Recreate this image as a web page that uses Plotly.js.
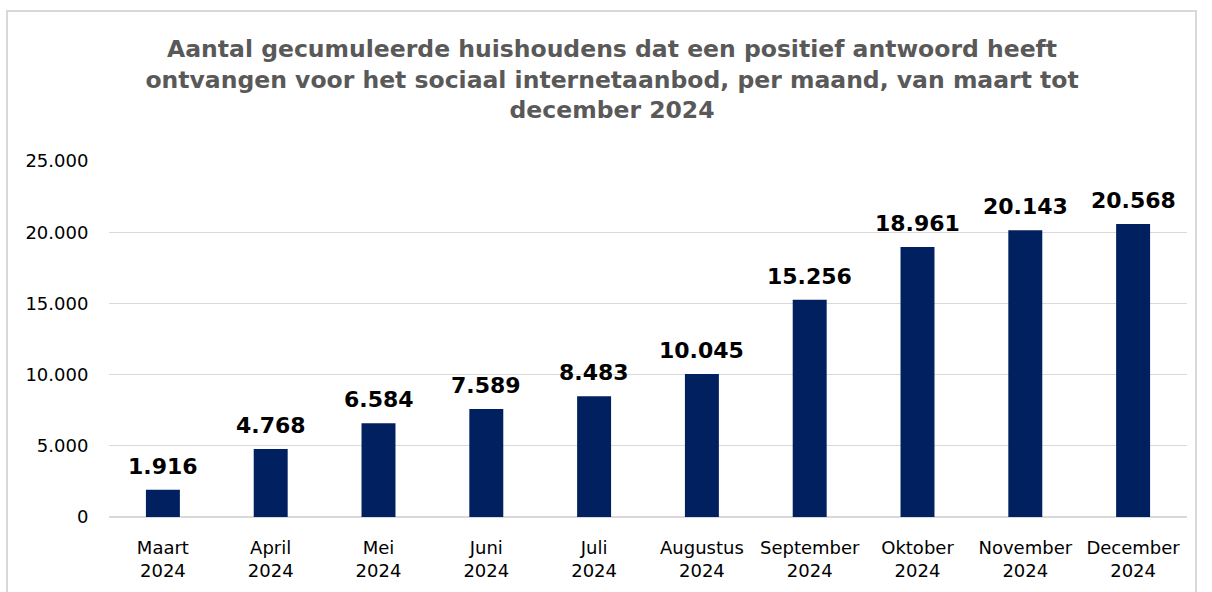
<!DOCTYPE html>
<html>
<head>
<meta charset="utf-8">
<script src="https://cdn.plot.ly/plotly-3.0.1.min.js"></script>
<style>
  html, body { margin: 0; padding: 0; background: #ffffff; }
  #frame { position: absolute; left: 6px; top: 10px; width: 1191px; height: 640px; border: 2px solid #d9d9d9; box-sizing: border-box; }
  #chart { position: absolute; left: 0; top: 0; width: 1212px; height: 592px; }
</style>
</head>
<body>
<div id="frame"></div>
<div id="chart"></div>
<script>
const categories = ["Maart<br>2024", "April<br>2024", "Mei<br>2024", "Juni<br>2024", "Juli<br>2024",
  "Augustus<br>2024", "September<br>2024", "Oktober<br>2024", "November<br>2024", "December<br>2024"];
const values = [1916, 4768, 6584, 7589, 8483, 10045, 15256, 18961, 20143, 20568];
const yTicks = [0, 5000, 10000, 15000, 20000, 25000];
const titleText = "Aantal gecumuleerde huishoudens dat een positief antwoord heeft<br>ontvangen voor het sociaal internetaanbod, per maand, van maart tot<br>december 2024";

const fontFam = "Tahoma, 'DejaVu Sans', Verdana, sans-serif";

const trace = {
  type: 'bar',
  x: categories,
  y: values,
  marker: { color: '#002060' },
  hoverinfo: 'skip'
};

const annotations = categories.map((c, i) => ({
  x: c, y: values[i], xref: 'x', yref: 'y',
  text: '<b>' + values[i].toLocaleString('de-DE') + '</b>',
  showarrow: false, yanchor: 'bottom', yshift: 9,
  font: { family: fontFam, size: 22, color: '#000000' }
}));

const layout = {
  width: 1212, height: 592,
  paper_bgcolor: 'rgba(0,0,0,0)',
  plot_bgcolor: 'rgba(0,0,0,0)',
  margin: { l: 109, r: 25, t: 161, b: 75 },
  separators: ',.',
  bargap: 0.685,
  showlegend: false,
  title: {
    text: '<b>' + titleText + '</b>',
    x: 0.505, xanchor: 'center', xref: 'container',
    y: 1 - 57 / 592, yanchor: 'top', yref: 'container',
    font: { family: fontFam, size: 23.5, color: '#595959' }
  },
  xaxis: {
    type: 'category',
    showgrid: false, zeroline: false, showline: false,
    ticks: 'outside', ticklen: 14, tickcolor: 'rgba(0,0,0,0)',
    tickfont: { family: fontFam, size: 18, color: '#000000' },
    fixedrange: true
  },
  yaxis: {
    range: [0, 25000],
    tickvals: yTicks,
    ticktext: yTicks.map(v => v.toLocaleString('de-DE')),
    showgrid: true, gridcolor: '#d9d9d9', gridwidth: 1.3,
    zeroline: true, zerolinecolor: '#d9d9d9', zerolinewidth: 1.3,
    showline: false,
    ticks: 'outside', ticklen: 16, tickcolor: 'rgba(0,0,0,0)',
    tickfont: { family: fontFam, size: 18, color: '#000000' },
    fixedrange: true
  },
  annotations: annotations
};

Plotly.newPlot('chart', [trace], layout, { displayModeBar: false, staticPlot: true });
</script>
</body>
</html>
